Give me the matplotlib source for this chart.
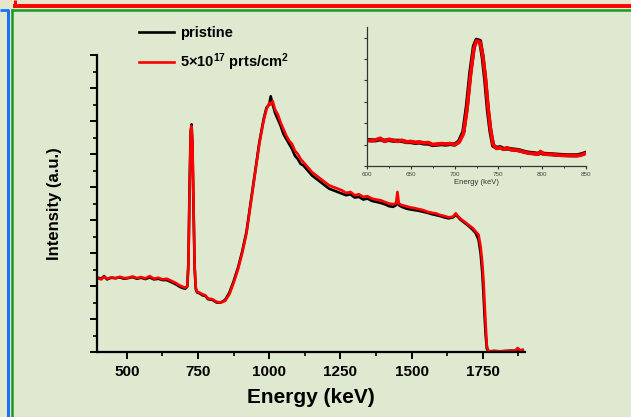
import matplotlib
matplotlib.use("Agg")
import matplotlib.pyplot as plt
from matplotlib.lines import Line2D
from matplotlib.patches import Rectangle
from matplotlib.ticker import MultipleLocator

plt.rcParams['font.family'] = ['Liberation Sans', 'DejaVu Sans']
plt.rcParams['mathtext.fontset'] = 'custom'
plt.rcParams['mathtext.rm'] = 'Liberation Sans:bold'
plt.rcParams['mathtext.bf'] = 'Liberation Sans:bold'
plt.rcParams['mathtext.default'] = 'bf'

# ---------------- data ----------------
energy_main = [395, 410, 420, 430, 445, 460, 475, 490, 505, 520, 535, 550, 565, 580,
               595, 610, 625, 640, 655, 670, 685, 695, 705, 712, 716, 720, 724, 727,
               730, 734, 738, 742, 747, 755, 765, 775, 785, 800, 815, 830, 845, 860,
               875, 890, 905, 920, 935, 950, 965, 980, 990, 1000, 1005, 1012, 1020,
               1030, 1040, 1050, 1060, 1070, 1080, 1090, 1100, 1110, 1120, 1135, 1150,
               1165, 1180, 1195, 1210, 1225, 1240, 1255, 1270, 1285, 1300, 1315, 1330,
               1345, 1360, 1375, 1390, 1405, 1420, 1435, 1445, 1450, 1455, 1465, 1480,
               1495, 1510, 1525, 1540, 1555, 1570, 1585, 1600, 1615, 1630, 1645, 1655,
               1662, 1670, 1685, 1700, 1715, 1725, 1735, 1742, 1748, 1752, 1756, 1760,
               1764, 1768, 1775, 1790, 1810, 1830, 1850, 1865, 1872, 1880, 1890]

irradiated_main = [2.24, 2.20, 2.28, 2.22, 2.26, 2.23, 2.28, 2.24, 2.25, 2.29, 2.24, 2.27,
                   2.23, 2.30, 2.22, 2.25, 2.20, 2.22, 2.16, 2.10, 2.02, 1.98, 1.95, 2.00,
                   2.60, 4.80, 6.60, 6.85, 6.40, 4.50, 2.60, 1.95, 1.82, 1.80, 1.75, 1.72,
                   1.62, 1.60, 1.52, 1.50, 1.55, 1.75, 2.10, 2.50, 3.00, 3.60, 4.50, 5.40,
                   6.30, 7.00, 7.35, 7.55, 7.50, 7.60, 7.35, 7.20, 6.95, 6.75, 6.55, 6.40,
                   6.30, 6.10, 6.00, 5.85, 5.75, 5.60, 5.45, 5.35, 5.25, 5.15, 5.05, 5.00,
                   4.95, 4.90, 4.82, 4.85, 4.75, 4.78, 4.70, 4.72, 4.65, 4.62, 4.60, 4.55,
                   4.50, 4.48, 4.50, 4.85, 4.50, 4.45, 4.42, 4.38, 4.36, 4.33, 4.30, 4.25,
                   4.22, 4.20, 4.15, 4.12, 4.08, 4.10, 4.20, 4.12, 4.05, 3.95, 3.85, 3.75,
                   3.65, 3.55, 3.20, 2.70, 2.20, 1.50, 0.80, 0.20, 0.05, 0.02, 0.03, 0.02,
                   0.03, 0.04, 0.04, 0.12, 0.05, 0.06]

pristine_main = [2.26, 2.22, 2.30, 2.20, 2.25, 2.24, 2.26, 2.22, 2.24, 2.27, 2.22, 2.25,
                 2.21, 2.26, 2.20, 2.22, 2.18, 2.18, 2.12, 2.06, 1.98, 1.94, 1.92, 1.98,
                 2.70, 5.00, 6.70, 6.90, 6.30, 4.30, 2.50, 1.90, 1.80, 1.78, 1.72, 1.70,
                 1.60, 1.58, 1.50, 1.50, 1.58, 1.80, 2.15, 2.55, 3.05, 3.65, 4.55, 5.45,
                 6.35, 7.05, 7.40, 7.50, 7.75, 7.50, 7.25, 7.05, 6.85, 6.60, 6.45, 6.30,
                 6.15, 5.95, 5.85, 5.70, 5.65, 5.50, 5.35, 5.25, 5.15, 5.05, 4.95, 4.90,
                 4.85, 4.80, 4.75, 4.78, 4.68, 4.70, 4.62, 4.65, 4.58, 4.55, 4.52, 4.48,
                 4.42, 4.40, 4.45, 4.60, 4.45, 4.40, 4.35, 4.32, 4.30, 4.28, 4.25, 4.22,
                 4.18, 4.15, 4.12, 4.08, 4.05, 4.08, 4.15, 4.10, 4.02, 3.92, 3.82, 3.70,
                 3.60, 3.40, 3.00, 2.40, 1.80, 1.10, 0.50, 0.10, 0.04, 0.02, 0.03, 0.02,
                 0.03, 0.04, 0.04, 0.10, 0.05, 0.06]

energy_inset = [600, 605, 610, 615, 620, 625, 630, 635, 640, 645, 650, 655, 660, 665, 670,
                675, 680, 685, 690, 695, 700, 705, 710, 714, 718, 722, 725, 729, 732, 735,
                738, 741, 744, 748, 752, 756, 760, 765, 770, 775, 780, 785, 790, 795, 798,
                802, 810, 820, 830, 840, 845, 850]

irradiated_inset = [1.20, 1.18, 1.22, 1.30, 1.15, 1.25, 1.20, 1.15, 1.20, 1.12, 1.15, 1.10,
                    1.12, 1.08, 1.10, 1.00, 1.02, 1.05, 1.03, 1.05, 1.00, 1.10, 1.50, 2.60,
                    4.20, 5.50, 5.85, 5.80, 5.20, 4.20, 2.80, 1.70, 1.00, 0.82, 0.85, 0.78,
                    0.85, 0.75, 0.75, 0.70, 0.65, 0.60, 0.58, 0.55, 0.68, 0.55, 0.55, 0.50,
                    0.50, 0.48, 0.52, 0.60]

pristine_inset = [1.22, 1.20, 1.20, 1.25, 1.18, 1.22, 1.18, 1.18, 1.17, 1.12, 1.12, 1.08,
                  1.10, 1.05, 1.05, 0.98, 1.00, 1.02, 1.00, 1.03, 1.00, 1.15, 1.60, 2.80,
                  4.40, 5.60, 5.90, 5.85, 5.10, 4.00, 2.60, 1.60, 0.95, 0.85, 0.88, 0.80,
                  0.82, 0.78, 0.76, 0.72, 0.66, 0.62, 0.60, 0.57, 0.62, 0.57, 0.55, 0.52,
                  0.50, 0.50, 0.55, 0.62]

main_xticks = [500, 750, 1000, 1250, 1500, 1750]
inset_xticks = [600, 650, 700, 750, 800, 850]
legend_labels = ['pristine', r'5×10$^{17}$ prts/cm$^{2}$']

# ---------------- figure ----------------
W, H = 631, 417
bg = '#DFE9CF'
fig = plt.figure(figsize=(W / 100, H / 100), dpi=100, facecolor=bg)


def fx(px):
    return px / W


def fy(py):
    return 1 - py / H


# decorative frame lines
fig.add_artist(Rectangle((0, fy(5)), 1, 1 - fy(5), transform=fig.transFigure,
                         facecolor='#E9E4CC', edgecolor='none'))
fig.add_artist(Line2D([fx(13), 1], [fy(6.2), fy(6.2)], transform=fig.transFigure,
                      color='#FF0000', lw=2.8, solid_capstyle='butt'))
fig.add_artist(Line2D([fx(14.5), fx(14.5)], [1, fy(6.5)], transform=fig.transFigure,
                      color='#FF0000', lw=2.2, solid_capstyle='butt'))
fig.add_artist(Line2D([fx(11), 1], [fy(9.7), fy(9.7)], transform=fig.transFigure,
                      color='#189A1E', lw=1.8, solid_capstyle='butt'))
fig.add_artist(Line2D([fx(12.2), fx(12.2)], [fy(9), 0], transform=fig.transFigure,
                      color='#189A1E', lw=1.8, solid_capstyle='butt'))
fig.add_artist(Line2D([0, fx(9)], [fy(10.3), fy(10.3)], transform=fig.transFigure,
                      color='#1E6EFF', lw=2.0, solid_capstyle='butt'))
fig.add_artist(Line2D([fx(8.2), fx(8.2)], [fy(9.5), 0], transform=fig.transFigure,
                      color='#1E6EFF', lw=2.2, solid_capstyle='butt'))

# main axes
ax = fig.add_axes([fx(97), fy(352), fx(525) - fx(97), fy(55) - fy(352)])
ax.set_facecolor('none')
ax.plot(energy_main, pristine_main, color='black', lw=1.9, label=legend_labels[0])
ax.plot(energy_main, irradiated_main, color='#FF0000', lw=1.9, label=legend_labels[1])
ax.set_xlim(395, 1898)
ax.set_ylim(0, 9)
ax.set_xticks(main_xticks)
ax.xaxis.set_minor_locator(MultipleLocator(125))
ax.yaxis.set_major_locator(MultipleLocator(1))
ax.yaxis.set_minor_locator(MultipleLocator(0.5))
ax.set_yticklabels([])
for s in ['top', 'right']:
    ax.spines[s].set_visible(False)
for s in ['left', 'bottom']:
    ax.spines[s].set_linewidth(1.6)
ax.tick_params(axis='both', which='major', direction='out', length=5, width=1.4)
ax.tick_params(axis='both', which='minor', direction='out', length=3, width=1.2)
ax.tick_params(axis='x', labelsize=11, pad=4)
for lab in ax.get_xticklabels():
    lab.set_fontweight('bold')
ax.set_xlabel('Energy (keV)', fontsize=15, fontweight='bold', labelpad=7)
ax.set_ylabel('Intensity (a.u.)', fontsize=12, fontweight='bold', labelpad=17)

# legend
handles = [Line2D([], [], color='black', lw=1.9), Line2D([], [], color='#FF0000', lw=1.9)]
fig.legend(handles, legend_labels, loc='upper left', bbox_to_anchor=(fx(139), fy(26)),
           frameon=False, prop={'weight': 'bold', 'size': 10.5}, handlelength=2.4,
           handletextpad=0.4, labelspacing=0.8, borderpad=0, borderaxespad=0)

# inset axes
axi = fig.add_axes([fx(367), fy(166), fx(586) - fx(367), fy(27) - fy(166)])
axi.set_facecolor('none')
axi.plot(energy_inset, pristine_inset, color='black', lw=3.0)
axi.plot(energy_inset, irradiated_inset, color='#FF0000', lw=2.6)
axi.set_xlim(600, 850)
axi.set_ylim(0, 6.5)
axi.set_xticks(inset_xticks)
axi.xaxis.set_minor_locator(MultipleLocator(25))
axi.yaxis.set_major_locator(MultipleLocator(1))
axi.set_yticklabels([])
for s in ['top', 'right']:
    axi.spines[s].set_visible(False)
for s in ['left', 'bottom']:
    axi.spines[s].set_linewidth(0.9)
    axi.spines[s].set_color('#333333')
axi.tick_params(axis='both', which='major', direction='out', length=2.5, width=0.8,
                color='#333333', labelsize=4.5, labelcolor='#444444', pad=1.5)
axi.tick_params(axis='both', which='minor', direction='out', length=1.5, width=0.7,
                color='#333333')
axi.set_xlabel('Energy (keV)', fontsize=5.5, color='#333333', labelpad=2)

fig.savefig('out.png', dpi=100, facecolor=bg)
